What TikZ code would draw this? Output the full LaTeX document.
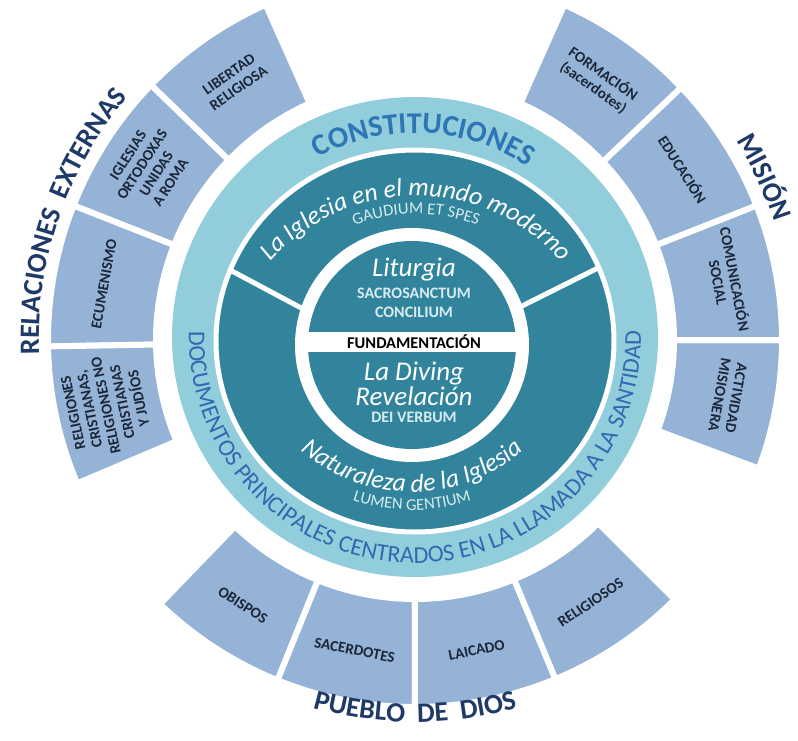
\documentclass[tikz,border=0pt]{standalone}
\usepackage{fontspec}
\setmainfont{Carlito}
\usepackage{xcolor}
\usepackage{tikz}
\usetikzlibrary{calc, decorations.text}

\definecolor{segblue}{HTML}{95B3D7}
\definecolor{ringblue}{HTML}{92CDDC}
\definecolor{docteal}{HTML}{31849B}
\definecolor{navytitle}{HTML}{1F3A68}
\definecolor{constblue}{HTML}{2E75B6}
\definecolor{ringink}{HTML}{2F6AB0}
\definecolor{labelink}{HTML}{1B2738}
\definecolor{paleink}{HTML}{D6ECF1}

% text along an arc: colour, centre, radius, start, end, text
\newcommand{\ringtext}[6]{%
  \path[decorate, decoration={text along path, text align=center,
      text color=#1, text={#6}}]
    (#2) ++(#4:#3) arc[start angle=#4, end angle=#5, radius=#3];
}

\begin{document}
\begin{tikzpicture}[x=0.5pt, y=0.5pt,
  seg/.style={fill=segblue, draw=white, line width=3pt},
  seglabel/.style={font=\fontsize{7.6}{8.4}\selectfont\bfseries, text=labelink, align=center, inner sep=0pt},
  bigital/.style={font=\fontsize{13.5}{10.5}\selectfont\itshape, text=white, align=center, inner sep=0pt},
  capsub/.style={font=\fontsize{8}{8}\selectfont\bfseries, text=paleink, inner sep=0pt}]
\useasboundingbox[fill=white] (-415,-400) rectangle (383,340);

% Mision
\foreach \a/\b/\txt [count=\i] in {-20.5/0/{ACTIVIDAD\\MISIONERA}, 0/21.5/{COMUNICACIÓN\\SOCIAL},
    21.5/43.5/{EDUCACIÓN}, 43.5/66/{FORMACIÓN\\(sacerdotes)}} {
  \pgfmathsetmacro\m{(\a+\b)/2}
  \draw[seg] (\a:259) arc[start angle=\a, end angle=\b, radius=259] -- (\b:367)
    arc[start angle=\b, end angle=\a, radius=367] -- cycle;
  \node[seglabel, rotate=\m-90] (mis\i) at (\m:318) {\txt};
}

% Pueblo de Dios
\foreach \a/\b/\txt [count=\i] in {-134/-112/OBISPOS, -112/-90/SACERDOTES,
    -90/-67.5/LAICADO, -67.5/-45/RELIGIOSOS} {
  \pgfmathsetmacro\m{(\a+\b)/2}
  \draw[seg] (\a:259) arc[start angle=\a, end angle=\b, radius=259] -- (\b:367)
    arc[start angle=\b, end angle=\a, radius=367] -- cycle;
  \node[seglabel, rotate=\m+90] (pue\i) at (\m:316) {\txt};
}

% Relaciones externas
\foreach \a/\b/\txt [count=\i] in {114/136/{LIBERTAD\\RELIGIOSA}, 136/158.5/{IGLESIAS\\ORTODOXAS\\UNIDAS\\A ROMA},
    158.5/181/ECUMENISMO, 181/203/{RELIGIONES\\CRISTIANAS,\\RELIGIONES NO\\CRISTIANAS\\Y JUDÍOS}} {
  \pgfmathsetmacro\m{(\a+\b)/2}
  \draw[seg] (\a:259) arc[start angle=\a, end angle=\b, radius=259] -- (\b:367)
    arc[start angle=\b, end angle=\a, radius=367] -- cycle;
  \node[seglabel, rotate=\m-90] (rel\i) at (\m:316) {\txt};
}

% Rings
\fill[ringblue] (0,3) ellipse[x radius=243, y radius=240];
\filldraw[fill=docteal, draw=white, line width=2.5pt] (0,-1) ellipse[x radius=199, y radius=191];
\draw[white, line width=2.5pt] (-185,70) -- (-110,30);
\draw[white, line width=2.5pt] (185,73) -- (105,33);

% Fundamentacion
\fill[white] (-3,-5) circle[radius=117];
\fill[docteal] (-3,-5) circle[radius=104];
\fill[white] (-110,-12) rectangle (104,8);

\node[bigital] (liturgia) at (-1,70) {Liturgia};
\node[capsub] (sacro) at (-1,47) {SACROSANCTUM};
\node[capsub] (concilio) at (-1,28) {CONCILIUM};
\node[font=\fontsize{8.2}{8}\selectfont\bfseries, inner sep=0pt] (fund) at (-1,-2) {FUNDAMENTACIÓN};
\node[bigital] (revel) at (-1,-44) {La Diving\\Revelación};
\node[capsub] (verbum) at (-1,-77) {DEI VERBUM};

% Curved titles
\ringtext{white}{1,-50}{194}{170}{10}{|\fontsize{12.8}{12.8}\selectfont\itshape|La Iglesia en el mundo moderno}
\ringtext{paleink}{1,-50}{176}{150}{30}{|\fontsize{8.3}{8.3}\selectfont|GAUDIUM ET SPES}
\ringtext{white}{-3,18}{170}{-160}{-20}{|\fontsize{12.8}{12.8}\selectfont\itshape|Naturaleza de la Iglesia}
\ringtext{paleink}{-3,18}{188}{-150}{-30}{|\fontsize{8.3}{8.3}\selectfont|LUMEN GENTIUM}

\ringtext{constblue}{0,3}{204}{125}{50}{|\fontsize{15}{15}\selectfont\bfseries|CONSTITUCIONES}
\ringtext{ringink}{0,3}{226}{170}{370}{|\fontsize{12}{12}\selectfont|DOCUMENTOS PRINCIPALES CENTRADOS EN LA LLAMADA A LA SANTIDAD}

\ringtext{navytitle}{0,0}{376}{196}{126}{|\fontsize{14}{14}\selectfont\bfseries|RELACIONES{\ \ }EXTERNAS}
\ringtext{navytitle}{0,0}{378}{40}{10}{|\fontsize{14}{14}\selectfont\bfseries|MISIÓN}
\ringtext{navytitle}{0,0}{382}{-115}{-65}{|\fontsize{14}{14}\selectfont\bfseries|PUEBLO{\ \ }DE{\ \ }DIOS}
\end{tikzpicture}
\end{document}
